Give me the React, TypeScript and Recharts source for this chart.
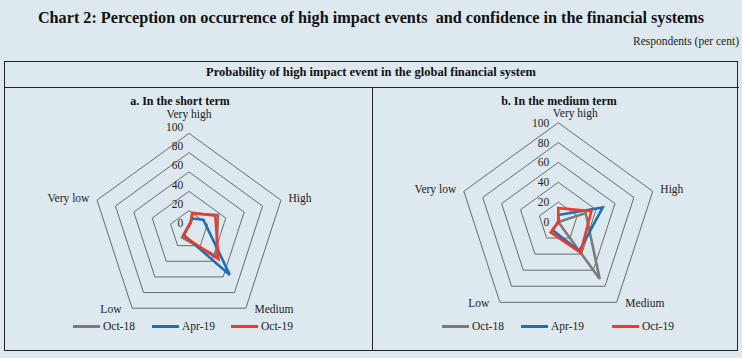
import React from 'react';
import { RadarChart, Radar, PolarGrid, PolarAngleAxis, PolarRadiusAxis } from 'recharts';

// Likelihood categories, clockwise from the top
const categories = ['Very high', 'High', 'Medium', 'Low', 'Very low'];
const radiusTicks = [0, 20, 40, 60, 80, 100];

// a. In the short term (per cent of respondents)
const shortOct18 = [10, 28, 42, 18, 2];
const shortApr19 = [5, 12, 66, 15, 2];
const shortOct19 = [11, 25, 46, 16, 2];

// b. In the medium term
const mediumOct18 = [0, 29, 71, 0, 0];
const mediumApr19 = [7, 47, 36, 10, 0];
const mediumOct19 = [14, 35, 38, 13, 0];

const SERIES = [
  { key: 'oct18', name: 'Oct-18', color: '#7b7b7b' },
  { key: 'apr19', name: 'Apr-19', color: '#1e6fb5' },
  { key: 'oct19', name: 'Oct-19', color: '#ee3a2b' },
];

const FONT = '"Liberation Serif", "DejaVu Serif", serif';
const BG = '#dde9ee';

const buildRows = (a: number[], b: number[], c: number[]) =>
  categories.map((category, i) => ({ category, oct18: a[i], apr19: b[i], oct19: c[i] }));

const shortData = buildRows(shortOct18, shortApr19, shortOct19);
const mediumData = buildRows(mediumOct18, mediumApr19, mediumOct19);

interface PanelProps {
  left: number;
  width: number;
  title: string;
  titleShift: number;
  data: any[];
  grid: { cx: number; cy: number; r: number };
  plot: { cx: number; cy: number; r: number };
  topLabel: { dx: number; dy: number };
  legendWidths: number[];
  legendLeft: number;
}

const Panel: React.FC<PanelProps> = ({ left, width, title, titleShift, data, grid, plot, topLabel, legendWidths, legendLeft }) => {
  // category labels around the pentagon
  const renderAngleTick = (props: any) => {
    const { x, y, payload, textAnchor, index } = props;
    let dx = 0;
    let dy = 0;
    if (textAnchor === 'middle') {
      dx = topLabel.dx;
      dy = topLabel.dy;
    } else if (index === 2 || index === 3) {
      dx = textAnchor === 'start' ? 4 : -6;
      dy = -6;
    }
    return (
      <text x={x + dx} y={y + dy} textAnchor={textAnchor} dominantBaseline="central"
        fontSize={11.5} fontFamily={FONT} fill="#222">
        {payload.value}
      </text>
    );
  };

  const renderRadiusTick = (props: any) => {
    const { x, y, payload } = props;
    return (
      <text x={x - 9} y={y} textAnchor="end" dominantBaseline="central"
        fontSize={11.5} fontFamily={FONT} fill="#222">
        {payload.value}
      </text>
    );
  };

  return (
    <div style={{ position: 'absolute', left, top: 0, width, height: 358 }}>
      <div style={{
        position: 'absolute', left: titleShift, width, top: 94, textAlign: 'center',
        fontSize: 12, fontWeight: 'bold', fontFamily: FONT, color: '#111'
      }}>
        {title}
      </div>
      {/* grid + category labels */}
      <div style={{ position: 'absolute', left: 0, top: 0 }}>
        <RadarChart width={width} height={358} cx={grid.cx} cy={grid.cy} outerRadius={grid.r} data={data}
          margin={{ top: 0, right: 0, bottom: 0, left: 0 }}>
          <PolarGrid gridType="polygon" radialLines={false} stroke="#4a4a4a" strokeWidth={0.8} />
          <PolarAngleAxis dataKey="category" tick={renderAngleTick} axisLine={false} tickLine={false} />
          <PolarRadiusAxis angle={90} type="number" domain={[0, 100]} ticks={radiusTicks as any}
            tick={false} axisLine={false} />
          {SERIES.map(s => (
            <Radar key={s.key} dataKey={s.key} stroke="none" fill="none" dot={false} isAnimationActive={false} />
          ))}
        </RadarChart>
      </div>
      {/* series + radius labels */}
      <div style={{ position: 'absolute', left: 0, top: 0 }}>
        <RadarChart width={width} height={358} cx={plot.cx} cy={plot.cy} outerRadius={plot.r} data={data}
          margin={{ top: 0, right: 0, bottom: 0, left: 0 }}>
          <PolarAngleAxis dataKey="category" tick={false} axisLine={false} tickLine={false} />
          <PolarRadiusAxis angle={90} type="number" domain={[0, 100]} ticks={radiusTicks as any}
            orientation="left" axisLine={false} tick={renderRadiusTick} />
          {SERIES.map(s => (
            <Radar key={s.key} name={s.name} dataKey={s.key} stroke={s.color} strokeWidth={2.6}
              fill="none" fillOpacity={0} dot={false} isAnimationActive={false} />
          ))}
        </RadarChart>
      </div>
      {/* legend */}
      <div style={{ position: 'absolute', left: legendLeft, top: 318, display: 'flex', alignItems: 'center', height: 16 }}>
        {SERIES.map((s, i) => (
          <div key={s.key} style={{ display: 'flex', alignItems: 'center', width: legendWidths[i] }}>
            <div style={{ width: 27, height: 3, background: s.color, marginRight: 3 }} />
            <span style={{ fontSize: 11.5, fontFamily: FONT, color: '#222' }}>{s.name}</span>
          </div>
        ))}
      </div>
    </div>
  );
};

export default function App() {
  return (
    <div style={{ position: 'absolute', left: 0, top: 0, width: 742, height: 358, background: BG, fontFamily: FONT, overflow: 'hidden' }}>
      <div style={{ position: 'absolute', left: 0, width: 742, top: 9, textAlign: 'center', fontSize: 16.2, fontWeight: 'bold', color: '#111' }}>
        Chart 2: Perception on occurrence of high impact events&nbsp; and confidence in the financial systems
      </div>
      <div style={{ position: 'absolute', right: 3, top: 35, fontSize: 11.5, color: '#222' }}>
        Respondents (per cent)
      </div>
      {/* outer frame */}
      <div style={{ position: 'absolute', left: 4, top: 61, width: 732, height: 288, border: '1.5px solid #222' }} />
      <div style={{ position: 'absolute', left: 4, top: 87, width: 735, height: 0, borderTop: '1.2px solid #222' }} />
      <div style={{ position: 'absolute', left: 372, top: 87, width: 0, height: 264, borderLeft: '1.2px solid #222' }} />
      <div style={{ position: 'absolute', left: 0, width: 742, top: 65, textAlign: 'center', fontSize: 12.5, fontWeight: 'bold', color: '#111' }}>
        Probability of high impact event in the global financial system
      </div>
      <Panel left={0} width={372} title="a. In the short term" titleShift={-6} data={shortData}
        grid={{ cx: 189, cy: 230, r: 96.7 }} plot={{ cx: 192.3, cy: 223.3, r: 96.7 }}
        topLabel={{ dx: 0, dy: -11 }} legendWidths={[79, 79, 79]} legendLeft={73} />
      <Panel left={372} width={370} title="b. In the medium term" titleShift={2} data={mediumData}
        grid={{ cx: 186.3, cy: 222, r: 99.3 }} plot={{ cx: 186.3, cy: 222, r: 99.3 }}
        topLabel={{ dx: 17, dy: -2 }} legendWidths={[79, 91, 79]} legendLeft={70} />
    </div>
  );
}
